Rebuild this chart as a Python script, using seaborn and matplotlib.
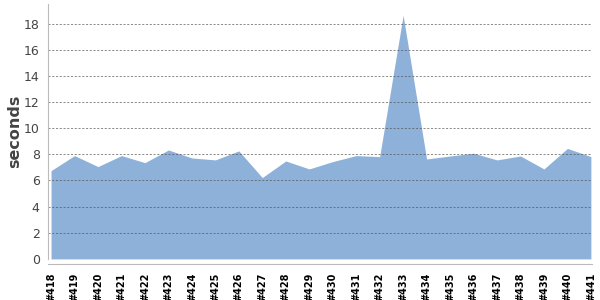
import matplotlib
matplotlib.use("Agg")
import matplotlib.pyplot as plt
import seaborn as sns
import pandas as pd
import numpy as np

builds = ["#418", "#419", "#420", "#421", "#422", "#423", "#424", "#425", "#426", "#427",
          "#428", "#429", "#430", "#431", "#432", "#433", "#434", "#435", "#436", "#437",
          "#438", "#439", "#440", "#441"]
seconds = [6.75, 7.9, 7.06, 7.9, 7.36, 8.33, 7.72, 7.57, 8.26, 6.22,
           7.49, 6.88, 7.44, 7.9, 7.82, 18.63, 7.64, 7.87, 8.08, 7.57,
           7.87, 6.88, 8.45, 7.82]
yticks = [0, 2, 4, 6, 8, 10, 12, 14, 16, 18]

df = pd.DataFrame({"build": builds, "seconds": seconds})
df["idx"] = np.arange(len(df))

sns.set_style("white")
plt.rcParams["font.family"] = ["DejaVu Sans"]

fig = plt.figure(figsize=(6, 3), dpi=100)
ax = fig.add_axes([0.08, 0.137, 0.906, 0.85])

fill_color = "#8EB1DA"
sns.lineplot(data=df, x="idx", y="seconds", ax=ax, color=fill_color, linewidth=0, zorder=1)
ax.fill_between(df["idx"], 0, df["seconds"], color=fill_color, linewidth=0, zorder=1)

for s in ["top", "right"]:
    ax.spines[s].set_visible(False)
ax.spines["left"].set_color("#BBBBBB")
ax.spines["bottom"].set_color("#BBBBBB")
ax.spines["bottom"].set_position(("outward", 4))

ax.set_ylim(0, 19.5)
ax.set_xlim(-0.13, 23.03)
ax.set_yticks(yticks)
ax.set_yticklabels([str(v) for v in yticks], fontsize=9, color="#444444")
ax.set_xticks(df["idx"])
ax.set_xticklabels(builds, rotation=90, fontsize=7, fontweight="bold", color="#000000")

for y in yticks[1:]:
    ax.axhline(y, color="#555555", linestyle=(0, (2.5, 2)), linewidth=0.6, alpha=0.8, zorder=2)

ax.tick_params(axis="x", length=4, color="#BBBBBB", pad=2)
ax.tick_params(axis="y", length=0, pad=6)

ax.set_xlabel("")
ax.set_ylabel("seconds", fontsize=11.5, fontweight="semibold", color="#444444")
ax.yaxis.set_label_coords(-0.048, 0.5)

fig.savefig("out.png", dpi=100)
